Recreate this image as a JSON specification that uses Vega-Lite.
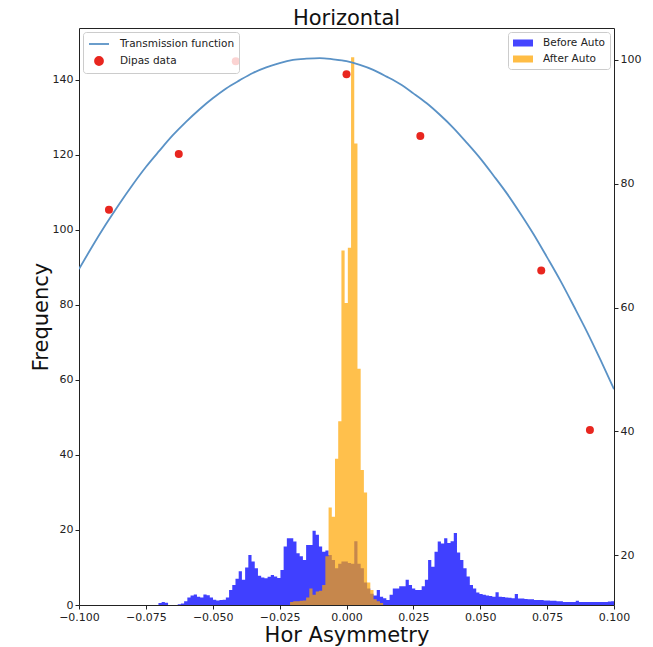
{
  "$schema": "https://vega.github.io/schema/vega-lite/v6.json",
  "width": 535,
  "height": 577,
  "autosize": {"type": "none"},
  "padding": {"left": 79, "top": 28, "right": 39, "bottom": 42},
  "background": "white",
  "title": {"text": "Horizontal", "fontSize": 21, "font": "DejaVu Sans", "fontWeight": "normal", "color": "#111", "offset": -1, "anchor": "middle", "frame": "group"},
  "config": {
    "font": "DejaVu Sans",
    "view": {"stroke": "#222", "strokeWidth": 1},
    "axis": {"domain": false, "grid": false, "tickColor": "#222", "tickSize": 4, "tickWidth": 1, "labelFont": "DejaVu Sans", "labelFontSize": 11, "labelColor": "#222", "labelPadding": 2, "labelFlush": false, "labelOverlap": false, "titleFont": "DejaVu Sans", "titleFontSize": 21, "titleFontWeight": "normal", "titleColor": "#111"},
    "legend": {"labelFont": "DejaVu Sans", "labelFontSize": 10.5, "labelColor": "#222", "strokeColor": "#cccccc", "fillColor": "rgba(255,255,255,0.8)", "cornerRadius": 3, "padding": 4, "offset": 4, "rowPadding": 3, "symbolSize": 196, "symbolOffset": 4, "labelOffset": 13}
  },
  "datasets": {
    "before": [
      {"x0": -0.0715, "n": 0}, {"x0": -0.0703, "n": 0.5}, {"x0": -0.0691, "n": 0.8}, {"x0": -0.0679, "n": 0.6},
      {"x0": -0.0667, "n": 0}, {"x0": -0.0655, "n": 0}, {"x0": -0.0643, "n": 0}, {"x0": -0.0631, "n": 0.2},
      {"x0": -0.0619, "n": 0.4}, {"x0": -0.0607, "n": 1}, {"x0": -0.0595, "n": 2}, {"x0": -0.0583, "n": 2.5},
      {"x0": -0.0571, "n": 2.8}, {"x0": -0.0559, "n": 2.2}, {"x0": -0.0547, "n": 2}, {"x0": -0.0535, "n": 2.8},
      {"x0": -0.0523, "n": 2.6}, {"x0": -0.0511, "n": 2}, {"x0": -0.0499, "n": 1.4}, {"x0": -0.0487, "n": 1.2},
      {"x0": -0.0475, "n": 1.3}, {"x0": -0.0463, "n": 1.4}, {"x0": -0.0451, "n": 2}, {"x0": -0.0439, "n": 4},
      {"x0": -0.0427, "n": 5.3}, {"x0": -0.0415, "n": 7}, {"x0": -0.0403, "n": 9}, {"x0": -0.0391, "n": 6.7},
      {"x0": -0.0379, "n": 10}, {"x0": -0.0367, "n": 13.3}, {"x0": -0.0355, "n": 11.6}, {"x0": -0.0343, "n": 9.8},
      {"x0": -0.0331, "n": 7.8}, {"x0": -0.0319, "n": 7.3}, {"x0": -0.0307, "n": 7.1}, {"x0": -0.0295, "n": 7.5},
      {"x0": -0.0283, "n": 8}, {"x0": -0.0271, "n": 7.6}, {"x0": -0.0259, "n": 7.2}, {"x0": -0.0247, "n": 9.3},
      {"x0": -0.0235, "n": 15.6}, {"x0": -0.0223, "n": 17.8}, {"x0": -0.0211, "n": 17.8}, {"x0": -0.0199, "n": 16.9},
      {"x0": -0.0187, "n": 13.8}, {"x0": -0.0175, "n": 13}, {"x0": -0.0163, "n": 12}, {"x0": -0.0151, "n": 16},
      {"x0": -0.0139, "n": 16}, {"x0": -0.0127, "n": 19.8}, {"x0": -0.0115, "n": 18.7}, {"x0": -0.0103, "n": 15.6},
      {"x0": -0.0091, "n": 14.2}, {"x0": -0.0079, "n": 14.5}, {"x0": -0.0067, "n": 13.3}, {"x0": -0.0055, "n": 12},
      {"x0": -0.0043, "n": 9.8}, {"x0": -0.0031, "n": 11}, {"x0": -0.0019, "n": 11.6}, {"x0": -0.0007, "n": 11.6},
      {"x0": 0.0005, "n": 11.2}, {"x0": 0.0017, "n": 11}, {"x0": 0.0029, "n": 17}, {"x0": 0.0041, "n": 11},
      {"x0": 0.0053, "n": 9.8}, {"x0": 0.0065, "n": 6}, {"x0": 0.0077, "n": 4.4}, {"x0": 0.0089, "n": 3},
      {"x0": 0.0101, "n": 2.5}, {"x0": 0.0113, "n": 4}, {"x0": 0.0125, "n": 2.2}, {"x0": 0.0137, "n": 1.8},
      {"x0": 0.0149, "n": 1.3}, {"x0": 0.0161, "n": 2.7}, {"x0": 0.0173, "n": 4.4}, {"x0": 0.0185, "n": 4.4},
      {"x0": 0.0197, "n": 5}, {"x0": 0.0209, "n": 5}, {"x0": 0.0221, "n": 6.7}, {"x0": 0.0233, "n": 5.3},
      {"x0": 0.0245, "n": 4.4}, {"x0": 0.0257, "n": 4}, {"x0": 0.0269, "n": 4}, {"x0": 0.0281, "n": 5},
      {"x0": 0.0293, "n": 6.7}, {"x0": 0.0305, "n": 12}, {"x0": 0.0317, "n": 10.2}, {"x0": 0.0329, "n": 14.2},
      {"x0": 0.0341, "n": 16.9}, {"x0": 0.0353, "n": 16.4}, {"x0": 0.0365, "n": 17.8}, {"x0": 0.0377, "n": 16.5},
      {"x0": 0.0389, "n": 17}, {"x0": 0.0401, "n": 19.2}, {"x0": 0.0413, "n": 14}, {"x0": 0.0425, "n": 12},
      {"x0": 0.0437, "n": 9.8}, {"x0": 0.0449, "n": 7.6}, {"x0": 0.0461, "n": 5.3}, {"x0": 0.0473, "n": 4.4},
      {"x0": 0.0485, "n": 3.3}, {"x0": 0.0497, "n": 2.9}, {"x0": 0.0509, "n": 2.7}, {"x0": 0.0521, "n": 2.5},
      {"x0": 0.0533, "n": 2.4}, {"x0": 0.0545, "n": 2.2}, {"x0": 0.0557, "n": 3.4}, {"x0": 0.0569, "n": 2.2},
      {"x0": 0.0581, "n": 2.1}, {"x0": 0.0593, "n": 2}, {"x0": 0.0605, "n": 1.9}, {"x0": 0.0617, "n": 1.8},
      {"x0": 0.0629, "n": 2.9}, {"x0": 0.0641, "n": 1.7}, {"x0": 0.0653, "n": 1.7}, {"x0": 0.0665, "n": 1.6},
      {"x0": 0.0677, "n": 1.5}, {"x0": 0.0689, "n": 1.5}, {"x0": 0.0701, "n": 1.3}, {"x0": 0.0713, "n": 1.3},
      {"x0": 0.0725, "n": 1.3}, {"x0": 0.0737, "n": 1.2}, {"x0": 0.0749, "n": 1.2}, {"x0": 0.0761, "n": 1.1},
      {"x0": 0.0773, "n": 1.1}, {"x0": 0.0785, "n": 1}, {"x0": 0.0797, "n": 1}, {"x0": 0.0809, "n": 0.8},
      {"x0": 0.0821, "n": 0.8}, {"x0": 0.0833, "n": 0.8}, {"x0": 0.0845, "n": 0.8}, {"x0": 0.0857, "n": 1.1},
      {"x0": 0.0869, "n": 0.8}, {"x0": 0.0881, "n": 0.8}, {"x0": 0.0893, "n": 0.8}, {"x0": 0.0905, "n": 0.8},
      {"x0": 0.0917, "n": 0.8}, {"x0": 0.0929, "n": 0.8}, {"x0": 0.0941, "n": 0.8}, {"x0": 0.0953, "n": 0.8},
      {"x0": 0.0965, "n": 0.8}, {"x0": 0.0977, "n": 0.9}, {"x0": 0.0989, "n": 1}, {"x0": 0.1001, "n": 1}
    ],
    "after": [
      {"x0": -0.0223, "n": 0}, {"x0": -0.0211, "n": 0.8}, {"x0": -0.0199, "n": 1}, {"x0": -0.0187, "n": 1},
      {"x0": -0.0175, "n": 1.1}, {"x0": -0.0163, "n": 1.2}, {"x0": -0.0151, "n": 2}, {"x0": -0.0139, "n": 4.4},
      {"x0": -0.0127, "n": 2.7}, {"x0": -0.0115, "n": 3.6}, {"x0": -0.0103, "n": 3.8}, {"x0": -0.0091, "n": 5.3},
      {"x0": -0.0079, "n": 13}, {"x0": -0.0067, "n": 26}, {"x0": -0.0055, "n": 23.5}, {"x0": -0.0043, "n": 39},
      {"x0": -0.0031, "n": 49}, {"x0": -0.0019, "n": 94.5}, {"x0": -0.0007, "n": 80.5}, {"x0": 0.0005, "n": 95.2},
      {"x0": 0.0017, "n": 146}, {"x0": 0.0029, "n": 123}, {"x0": 0.0041, "n": 63}, {"x0": 0.0053, "n": 36},
      {"x0": 0.0065, "n": 30}, {"x0": 0.0077, "n": 6}, {"x0": 0.0089, "n": 4}, {"x0": 0.0101, "n": 1.5},
      {"x0": 0.0113, "n": 1}, {"x0": 0.0125, "n": 0.5}, {"x0": 0.0137, "n": 0}
    ],
    "curve": [
      {"x": -0.1, "v": 66.2}, {"x": -0.095, "v": 69.9}, {"x": -0.09, "v": 73.4}, {"x": -0.085, "v": 76.7},
      {"x": -0.08, "v": 79.8}, {"x": -0.075, "v": 82.7}, {"x": -0.07, "v": 85.3}, {"x": -0.065, "v": 87.8},
      {"x": -0.06, "v": 90.0}, {"x": -0.055, "v": 92.0}, {"x": -0.05, "v": 93.8}, {"x": -0.045, "v": 95.4},
      {"x": -0.04, "v": 96.7}, {"x": -0.035, "v": 97.9}, {"x": -0.03, "v": 98.8}, {"x": -0.025, "v": 99.5},
      {"x": -0.02, "v": 100.0}, {"x": -0.015, "v": 100.2}, {"x": -0.01, "v": 100.3}, {"x": -0.005, "v": 100.1},
      {"x": 0.0, "v": 99.8}, {"x": 0.005, "v": 99.2}, {"x": 0.01, "v": 98.4}, {"x": 0.015, "v": 97.3},
      {"x": 0.02, "v": 96.1}, {"x": 0.025, "v": 94.6}, {"x": 0.03, "v": 93.0}, {"x": 0.035, "v": 91.1},
      {"x": 0.04, "v": 89.0}, {"x": 0.045, "v": 86.6}, {"x": 0.05, "v": 84.1}, {"x": 0.055, "v": 81.3},
      {"x": 0.06, "v": 78.4}, {"x": 0.065, "v": 75.2}, {"x": 0.07, "v": 71.8}, {"x": 0.075, "v": 68.1},
      {"x": 0.08, "v": 64.3}, {"x": 0.085, "v": 60.2}, {"x": 0.09, "v": 56.0}, {"x": 0.095, "v": 51.5},
      {"x": 0.1, "v": 46.8}
    ],
    "dipas": [
      {"x": -0.0888, "v": 75.8}, {"x": -0.0627, "v": 84.8}, {"x": -0.0414, "v": 99.8}, {"x": 0.0, "v": 97.7},
      {"x": 0.0276, "v": 87.7}, {"x": 0.0728, "v": 66.0}, {"x": 0.091, "v": 40.2}
    ]
  },
  "layer": [
    {
      "layer": [
        {
          "data": {"name": "before"},
          "mark": {"type": "area", "interpolate": "step-after", "fillOpacity": 0.75, "clip": true},
          "encoding": {
            "x": {"field": "x0", "type": "quantitative", "scale": {"domain": [-0.1, 0.1], "nice": false, "zero": false},
                  "axis": {"title": "Hor Asymmetry", "values": [-0.1, -0.075, -0.05, -0.025, 0, 0.025, 0.05, 0.075, 0.1], "format": ".3f", "titlePadding": 2}},
            "y": {"field": "n", "type": "quantitative", "stack": null, "scale": {"domain": [0, 153.8], "nice": false, "zero": true},
                  "axis": {"title": "Frequency", "values": [0, 20, 40, 60, 80, 100, 120, 140], "titlePadding": 1}},
            "fill": {"datum": "Before Auto", "type": "nominal",
                     "scale": {"domain": ["Before Auto", "After Auto"], "range": ["#0000ff", "#ffa500"]},
                     "legend": {"title": null, "orient": "top-right", "symbolType": "M-1.43,-0.5H1.43V0.5H-1.43Z", "symbolStrokeWidth": 0, "symbolOpacity": 0.73}}
          }
        },
        {
          "data": {"name": "after"},
          "mark": {"type": "area", "interpolate": "step-after", "fillOpacity": 0.7, "clip": true},
          "encoding": {
            "x": {"field": "x0", "type": "quantitative", "scale": {"domain": [-0.1, 0.1], "nice": false, "zero": false},
                  "axis": {"title": "Hor Asymmetry", "values": [-0.1, -0.075, -0.05, -0.025, 0, 0.025, 0.05, 0.075, 0.1], "format": ".3f", "titlePadding": 2}},
            "y": {"field": "n", "type": "quantitative", "stack": null},
            "fill": {"datum": "After Auto", "type": "nominal"}
          }
        }
      ]
    },
    {
      "layer": [
        {
          "data": {"name": "curve"},
          "mark": {"type": "line", "strokeWidth": 1.8, "clip": true, "interpolate": "monotone"},
          "encoding": {
            "x": {"field": "x", "type": "quantitative", "scale": {"domain": [-0.1, 0.1], "nice": false, "zero": false},
                  "axis": {"title": "Hor Asymmetry", "values": [-0.1, -0.075, -0.05, -0.025, 0, 0.025, 0.05, 0.075, 0.1], "format": ".3f", "titlePadding": 2}},
            "y": {"field": "v", "type": "quantitative", "scale": {"domain": [11.94, 105.16], "nice": false, "zero": false},
                  "axis": {"orient": "right", "title": null, "values": [20, 40, 60, 80, 100]}},
            "stroke": {"datum": "Transmission function", "type": "nominal",
                       "scale": {"domain": ["Transmission function", "Dipas data"], "range": ["#5a92c6", "#e8261f"]},
                       "legend": {"title": null, "orient": "top-left",
                                  "encode": {"symbols": {"update": {
                                    "shape": {"signal": "datum.value === 'Dipas data' ? 'circle' : 'M-1.43,0H1.43'"},
                                    "size": {"signal": "datum.value === 'Dipas data' ? 64 : 196"},
                                    "fill": {"signal": "datum.value === 'Dipas data' ? '#e8261f' : 'transparent'"},
                                    "stroke": {"signal": "datum.value === 'Dipas data' ? 'transparent' : '#5a92c6'"},
                                    "strokeWidth": {"value": 1.8},
                                    "opacity": {"value": 1}
                                  }}}}}
          }
        },
        {
          "data": {"name": "dipas"},
          "mark": {"type": "point", "filled": true, "fill": "#e8261f", "size": 64, "opacity": 1, "strokeWidth": 0},
          "encoding": {
            "x": {"field": "x", "type": "quantitative", "scale": {"domain": [-0.1, 0.1], "nice": false, "zero": false},
                  "axis": {"title": "Hor Asymmetry", "values": [-0.1, -0.075, -0.05, -0.025, 0, 0.025, 0.05, 0.075, 0.1], "format": ".3f", "titlePadding": 2}},
            "y": {"field": "v", "type": "quantitative"},
            "stroke": {"datum": "Dipas data", "type": "nominal"}
          }
        }
      ]
    }
  ],
  "resolve": {"scale": {"y": "independent"}}
}
